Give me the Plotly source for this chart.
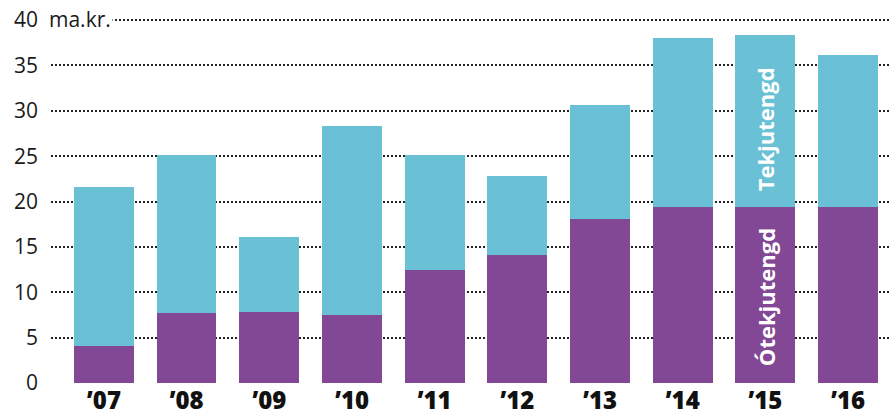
import plotly.graph_objects as go

years = ["’07", "’08", "’09", "’10", "’11", "’12", "’13", "’14", "’15", "’16"]
otekjutengd = [4.1, 7.7, 7.8, 7.55, 12.4, 14.15, 18.1, 19.45, 19.4, 19.4]
totals = [21.65, 25.1, 16.05, 28.3, 25.1, 22.8, 30.6, 38.0, 38.4, 36.1]
tekjutengd = [round(t - o, 2) for t, o in zip(totals, otekjutengd)]
y_ticks = [0, 5, 10, 15, 20, 25, 30, 35, 40]
y_ticktext = ["0", "5", "10", "15", "20", "25", "30", "35", "40"]

purple = "#824895"
cyan = "#6AC1D6"

fig = go.Figure()
fig.add_trace(go.Bar(x=years, y=otekjutengd, marker=dict(color=purple, line=dict(width=0)), name="Ótekjutengd"))
fig.add_trace(go.Bar(x=years, y=tekjutengd, marker=dict(color=cyan, line=dict(width=0)), name="Tekjutengd"))

fig.update_layout(
    barmode="stack",
    bargap=0.277,
    width=891, height=418,
    margin=dict(l=51, r=0, t=11, b=35, autoexpand=False),
    plot_bgcolor="white", paper_bgcolor="white",
    showlegend=False,
    font=dict(family="Open Sans, sans-serif", color="#1a1a1a"),
    xaxis=dict(
        range=[-0.64, 9.52], showgrid=False, zeroline=False, showline=False,
        tickfont=dict(size=24, color="#111", weight=800),
        ticks="", ticklabelstandoff=1, automargin=False, ticklabeloverflow="allow",
    ),
    yaxis=dict(
        range=[0, 41], tickvals=y_ticks, ticktext=y_ticktext,
        showgrid=True, gridcolor="#222", gridwidth=2, griddash="2px,2px",
        zeroline=False, showline=False, ticks="", automargin=False,
        ticklabeloverflow="allow",
        tickfont=dict(size=21, color="#1a1a1a"), ticklabelstandoff=12,
    ),
)

fig.add_annotation(x=0, xref="paper", y=40, yref="y", text="ma.kr.", showarrow=False,
                   xanchor="left", yanchor="middle", xshift=-4, yshift=1, bgcolor="white", borderpad=1,
                   font=dict(size=21, color="#1a1a1a"))
fig.add_annotation(x=years[8], y=28.0, text="Tekjutengd", textangle=-90, showarrow=False,
                   font=dict(size=22, color="white", weight=700))
fig.add_annotation(x=years[8], y=9.5, text="Ótekjutengd", textangle=-90, showarrow=False,
                   font=dict(size=22, color="white", weight=700))

fig.write_html("out.html", config={"displayModeBar": False},
               post_script="document.body.style.margin='0';")
